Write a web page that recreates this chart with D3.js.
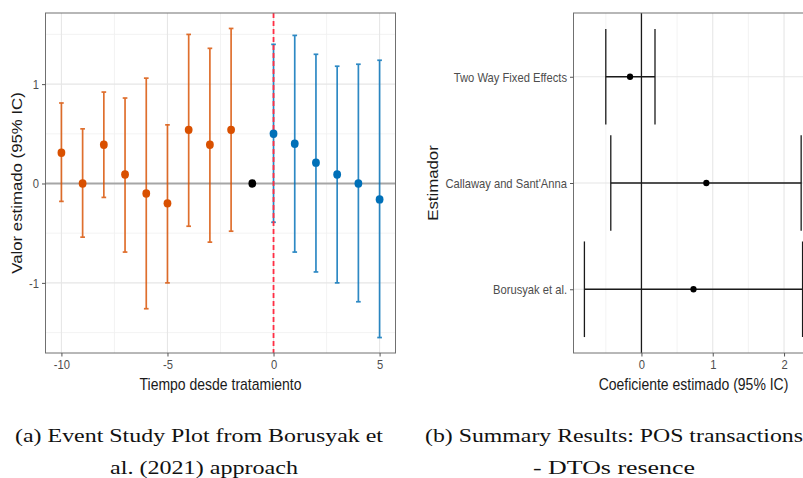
<!DOCTYPE html>
<html>
<head>
<meta charset="utf-8">
<script src="https://cdn.jsdelivr.net/npm/d3@7"></script>
<style>
  html, body { margin: 0; padding: 0; background: #ffffff; }
  svg { display: block; }
  text { font-family: "Liberation Sans", Arial, Helvetica, sans-serif; }
  .caption { font-family: "Liberation Serif", "Times New Roman", serif; fill: #111; }
</style>
</head>
<body>
<svg id="fig" width="803" height="478"></svg>
<script>
// ---- Panel (a): event study, Borusyak et al. (2021) ----
const periods   = [-10, -9, -8, -7, -6, -5, -4, -3, -2, -1, 0, 1, 2, 3, 4, 5];
const estimates = [0.31, 0.00, 0.39, 0.09, -0.10, -0.20, 0.54, 0.39, 0.54, 0.00, 0.50, 0.40, 0.21, 0.09, 0.00, -0.16];
const lowerCI   = [-0.18, -0.54, -0.14, -0.69, -1.26, -1.00, -0.43, -0.59, -0.48, 0.00, -0.39, -0.69, -0.89, -1.00, -1.19, -1.55];
const upperCI   = [0.81, 0.55, 0.92, 0.86, 1.06, 0.59, 1.50, 1.36, 1.56, 0.00, 1.40, 1.49, 1.30, 1.18, 1.20, 1.24];
const periodGroup = ["pre", "pre", "pre", "pre", "pre", "pre", "pre", "pre", "pre", "ref",
                     "post", "post", "post", "post", "post", "post"];
const xTicksA = [-10, -5, 0, 5];
const yTicksA = [-1, 0, 1];

// ---- Panel (b): summary of estimators ----
const estimators = ["Two Way Fixed Effects", "Callaway and Sant'Anna", "Borusyak et al."];
const coefs      = [-0.16, 0.91, 0.73];
const coefLow    = [-0.50, -0.43, -0.80];
const coefHigh   = [0.19, 2.24, 2.26];
const xTicksB    = [0, 1, 2];

const groupColor = { pre: "#D95000", ref: "#000000", post: "#0070B8" };

// the exported figure is taller than its native aspect, so glyphs are drawn stretched vertically
const VS = 1.2;

const svg = d3.select("#fig");

// ggplot-style continuous expansion (5% on each side)
function expand(ext, f = 0.05) {
  const pad = (ext[1] - ext[0]) * f;
  return [ext[0] - pad, ext[1] + pad];
}
const plainNum = d => String(d);

// horizontal text with vertical stretch, positioned by its baseline point
function hText(g, x, y, str, size, anchor, fill) {
  return g.append("text")
    .attr("transform", `translate(${x},${y}) scale(1,${VS})`)
    .attr("text-anchor", anchor).style("font-size", size + "px").attr("fill", fill)
    .text(str);
}
// rotated axis title, stretched along its reading direction
function vText(g, x, y, str, size, fill) {
  return g.append("text")
    .attr("transform", `translate(${x},${y}) rotate(-90) scale(${VS},1)`)
    .attr("text-anchor", "middle").style("font-size", size + "px").attr("fill", fill)
    .text(str);
}

function styleAxis(g, orient) {
  g.select(".domain").remove();
  g.selectAll(".tick line").attr("stroke", "#555").attr("stroke-width", 1);
  const t = g.selectAll(".tick text").attr("fill", "#4D4D4D").style("font-size", "11.2px");
  if (orient === "bottom") {
    t.attr("transform", `scale(1,${VS})`).attr("y", 6.5 / VS);
  } else {
    t.attr("transform", `scale(1,${VS})`);
  }
}

// ================= Panel (a) =================
const A = { left: 45.5, right: 395.5, top: 13, bottom: 353 };
const xA = d3.scaleLinear().domain(expand(d3.extent(periods))).range([A.left, A.right]);
const yA = d3.scaleLinear()
  .domain(expand([d3.min(lowerCI), d3.max(upperCI)]))
  .range([A.bottom, A.top]);

const gA = svg.append("g");
gA.append("rect").attr("x", A.left).attr("y", A.top)
  .attr("width", A.right - A.left).attr("height", A.bottom - A.top).attr("fill", "#fff");

// minor grid
const minorXA = [-7.5, -2.5, 2.5];
const minorYA = [-1.5, -0.5, 0.5, 1.5];
gA.selectAll(".mgx").data(minorXA).join("line")
  .attr("x1", d => xA(d)).attr("x2", d => xA(d)).attr("y1", A.top).attr("y2", A.bottom)
  .attr("stroke", "#F0F0F0").attr("stroke-width", 0.8);
gA.selectAll(".mgy").data(minorYA).join("line")
  .attr("y1", d => yA(d)).attr("y2", d => yA(d)).attr("x1", A.left).attr("x2", A.right)
  .attr("stroke", "#F0F0F0").attr("stroke-width", 0.8);
// major grid
gA.selectAll(".gx").data(xTicksA).join("line")
  .attr("x1", d => xA(d)).attr("x2", d => xA(d)).attr("y1", A.top).attr("y2", A.bottom)
  .attr("stroke", "#E6E6E6").attr("stroke-width", 1.1);
gA.selectAll(".gy").data(yTicksA).join("line")
  .attr("y1", d => yA(d)).attr("y2", d => yA(d)).attr("x1", A.left).attr("x2", A.right)
  .attr("stroke", "#E6E6E6").attr("stroke-width", 1.1);

// zero reference line
gA.append("line").attr("x1", A.left).attr("x2", A.right)
  .attr("y1", yA(0)).attr("y2", yA(0))
  .attr("stroke", "#A6A6A6").attr("stroke-width", 1.8);

// error bars
const rowsA = periods.map((p, i) => ({ p, est: estimates[i], lo: lowerCI[i], hi: upperCI[i], g: periodGroup[i] }));
const capHalf = (xA(0.11) - xA(0));
const bars = gA.append("g").attr("opacity", 0.82);
rowsA.filter(d => d.hi > d.lo).forEach(d => {
  const c = groupColor[d.g];
  const x = xA(d.p);
  bars.append("line").attr("x1", x).attr("x2", x).attr("y1", yA(d.lo)).attr("y2", yA(d.hi))
    .attr("stroke", c).attr("stroke-width", 1.7);
  [d.lo, d.hi].forEach(v => {
    bars.append("line").attr("x1", x - capHalf).attr("x2", x + capHalf)
      .attr("y1", yA(v)).attr("y2", yA(v)).attr("stroke", c).attr("stroke-width", 1.7);
  });
});

// treatment onset
gA.append("line").attr("x1", xA(0)).attr("x2", xA(0)).attr("y1", A.top).attr("y2", A.bottom)
  .attr("stroke", "#FF2E44").attr("stroke-width", 1.8).attr("stroke-dasharray", "5,3");

// point estimates
gA.selectAll(".pt").data(rowsA).join("ellipse")
  .attr("cx", d => xA(d.p)).attr("cy", d => yA(d.est)).attr("rx", 3.9).attr("ry", 4.2)
  .attr("fill", d => groupColor[d.g]);

// border
gA.append("rect").attr("x", A.left).attr("y", A.top)
  .attr("width", A.right - A.left).attr("height", A.bottom - A.top)
  .attr("fill", "none").attr("stroke", "#707070").attr("stroke-width", 1);

// axes
gA.append("g").attr("transform", `translate(0,${A.bottom})`)
  .call(d3.axisBottom(xA).tickValues(xTicksA).tickSize(3.5).tickPadding(3).tickFormat(plainNum))
  .call(g => styleAxis(g, "bottom"));
gA.append("g").attr("transform", `translate(${A.left},0)`)
  .call(d3.axisLeft(yA).tickValues(yTicksA).tickSize(3.5).tickPadding(3).tickFormat(plainNum))
  .call(g => styleAxis(g, "left"));

hText(gA, (A.left + A.right) / 2, 390, "Tiempo desde tratamiento", 14, "middle", "#1a1a1a");
vText(gA, 22, (A.top + A.bottom) / 2, "Valor estimado (95% IC)", 14, "#1a1a1a");

// ================= Panel (b) =================
const B = { left: 573.5, top: 13, bottom: 353 };
const xBdom = expand([d3.min(coefLow), d3.max(coefHigh)]);
const unitB = 71.3;
B.right = B.left + (xBdom[1] - xBdom[0]) * unitB;
const xB = d3.scaleLinear().domain(xBdom).range([B.left, B.right]);
const yB = d3.scalePoint().domain(estimators).range([B.top, B.bottom]).padding(0.6);

const gB = svg.append("g");
const minorXB = [-0.5, 0.5, 1.5];
gB.selectAll(".mgx").data(minorXB).join("line")
  .attr("x1", d => xB(d)).attr("x2", d => xB(d)).attr("y1", B.top).attr("y2", B.bottom)
  .attr("stroke", "#F0F0F0").attr("stroke-width", 0.8);
gB.selectAll(".gx").data(xTicksB).join("line")
  .attr("x1", d => xB(d)).attr("x2", d => xB(d)).attr("y1", B.top).attr("y2", B.bottom)
  .attr("stroke", "#E6E6E6").attr("stroke-width", 1.1);
gB.selectAll(".gy").data(estimators).join("line")
  .attr("y1", d => yB(d)).attr("y2", d => yB(d)).attr("x1", B.left).attr("x2", B.right)
  .attr("stroke", "#E6E6E6").attr("stroke-width", 1.1);

// zero line
gB.append("line").attr("x1", xB(0)).attr("x2", xB(0)).attr("y1", B.top).attr("y2", B.bottom)
  .attr("stroke", "#1a1a1a").attr("stroke-width", 1.3);

// horizontal error bars with tall caps (0.9 of the row step)
const capB = yB.step() * 0.45;
estimators.forEach((e, i) => {
  const y = yB(e);
  gB.append("line").attr("x1", xB(coefLow[i])).attr("x2", xB(coefHigh[i]))
    .attr("y1", y).attr("y2", y).attr("stroke", "#1a1a1a").attr("stroke-width", 1.3);
  [coefLow[i], coefHigh[i]].forEach(v => {
    gB.append("line").attr("x1", xB(v)).attr("x2", xB(v))
      .attr("y1", y - capB).attr("y2", y + capB).attr("stroke", "#1a1a1a").attr("stroke-width", 1.3);
  });
  gB.append("ellipse").attr("cx", xB(coefs[i])).attr("cy", y).attr("rx", 3.1).attr("ry", 3.3).attr("fill", "#000");
});

// border
gB.append("rect").attr("x", B.left).attr("y", B.top)
  .attr("width", B.right - B.left).attr("height", B.bottom - B.top)
  .attr("fill", "none").attr("stroke", "#707070").attr("stroke-width", 1);

gB.append("g").attr("transform", `translate(0,${B.bottom})`)
  .call(d3.axisBottom(xB).tickValues(xTicksB).tickSize(3.5).tickPadding(3).tickFormat(plainNum))
  .call(g => styleAxis(g, "bottom"));
gB.append("g").attr("transform", `translate(${B.left},0)`)
  .call(d3.axisLeft(yB).tickSize(3.5).tickPadding(3))
  .call(g => styleAxis(g, "left"));

hText(gB, (B.left + B.right) / 2, 390, "Coeficiente estimado (95% IC)", 14, "middle", "#1a1a1a");
vText(gB, 438, (B.top + B.bottom) / 2, "Estimador", 14, "#1a1a1a");

// ================= Captions =================
const captions = [
  { text: "(a) Event Study Plot from Borusyak et", x: 199, y: 442, w: 368, anchor: "middle" },
  { text: "al. (2021) approach", x: 204, y: 474, w: 188, anchor: "middle" },
  { text: "(b) Summary Results: POS transactions", x: 425, y: 442, w: 378, anchor: "start" },
  { text: "- DTOs resence", x: 614, y: 474, w: 162, anchor: "middle" }
];
svg.selectAll(".caption").data(captions).join("text")
  .attr("class", "caption")
  .attr("transform", d => `translate(${d.x},${d.y}) scale(1,${VS})`)
  .attr("text-anchor", d => d.anchor)
  .attr("textLength", d => d.w).attr("lengthAdjust", "spacingAndGlyphs")
  .style("font-size", "16.5px")
  .text(d => d.text);
</script>
</body>
</html>
